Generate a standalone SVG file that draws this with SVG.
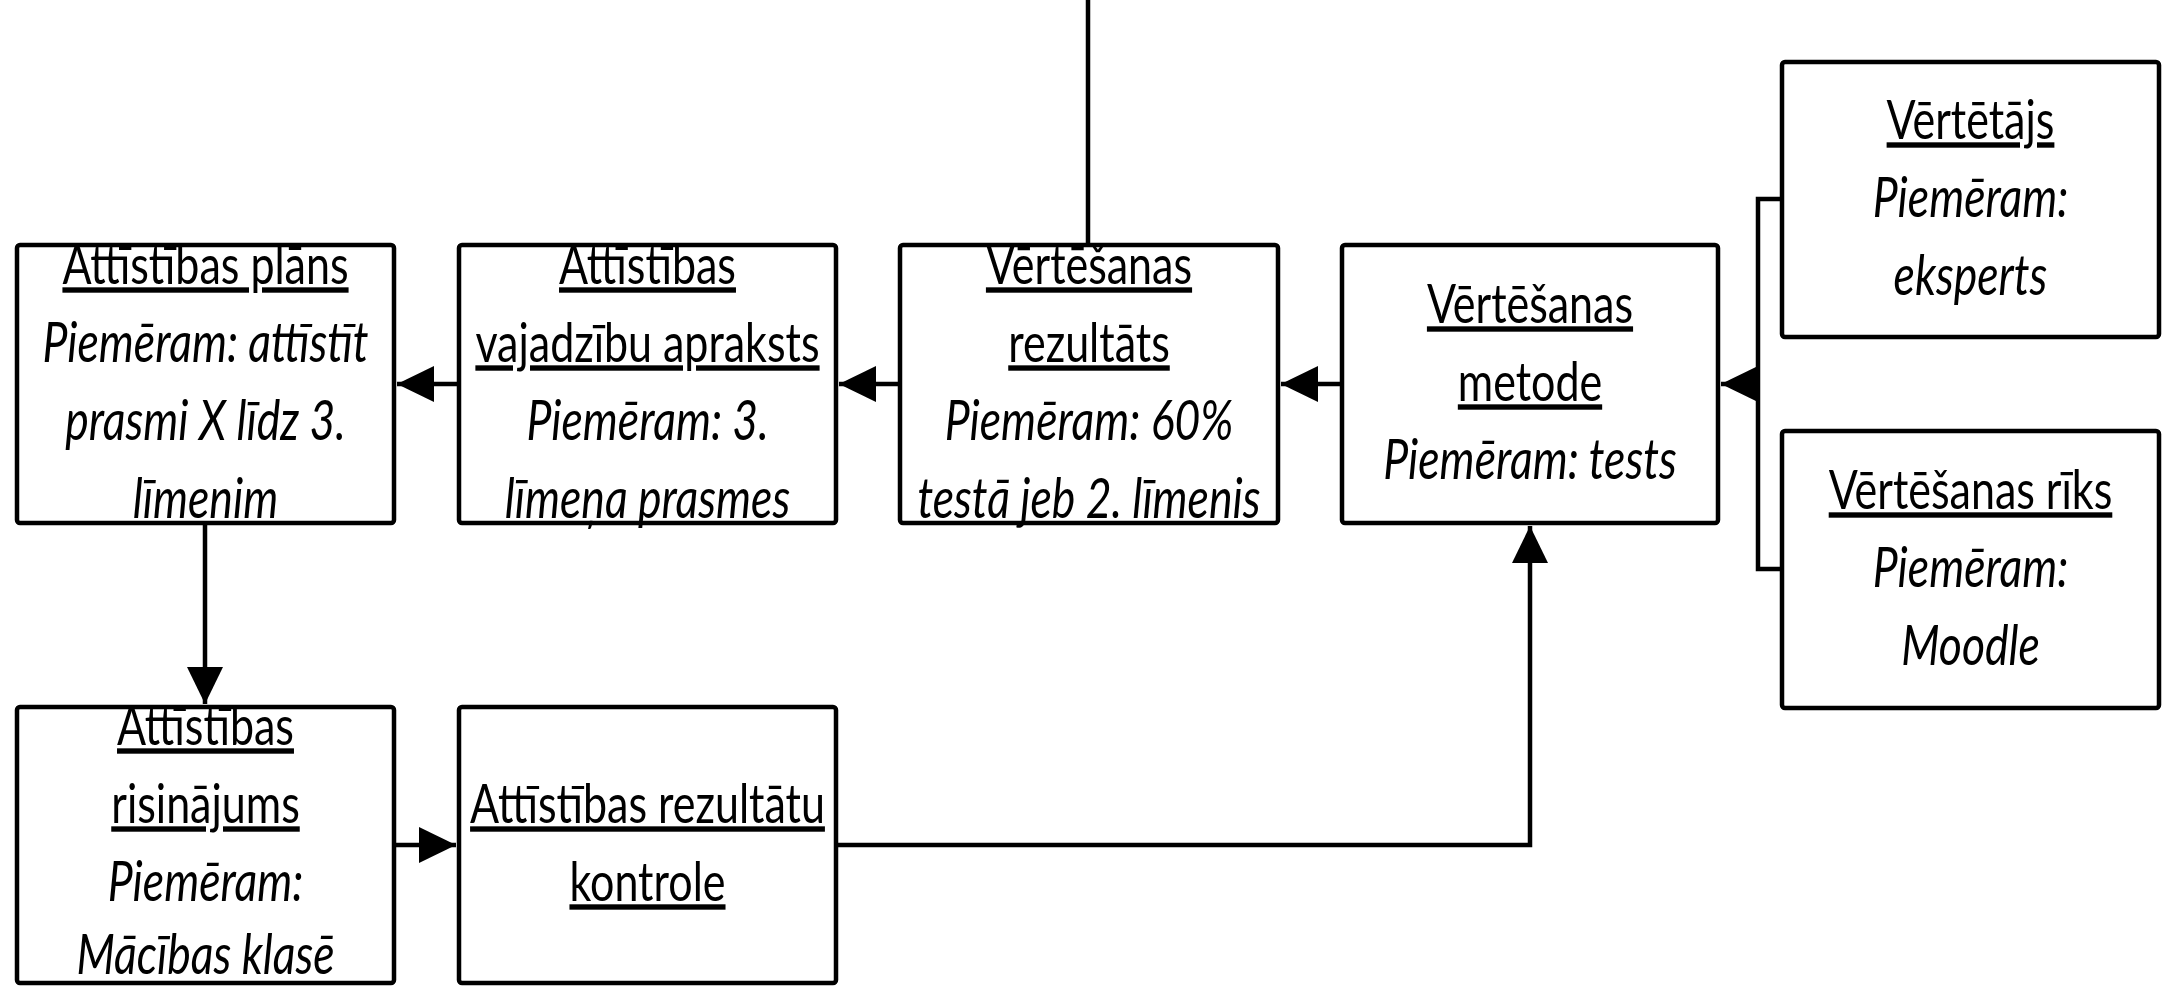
<svg xmlns="http://www.w3.org/2000/svg" width="2167" height="986" viewBox="0 0 2167 986">
<style>
.box{fill:#fff;stroke:#000;stroke-width:4.5}
.t{font-family:Lato,"Liberation Sans",sans-serif;font-size:43px;fill:#000;text-anchor:middle}
.u{text-decoration:underline}
.i{font-style:italic;font-size:44.5px}
.c{fill:none;stroke:#000;stroke-width:4.5}
</style>
<defs>
<marker id="ah" markerUnits="userSpaceOnUse" markerWidth="40" markerHeight="38" refX="37" refY="18" orient="auto">
<path d="M0,0 L37,18 L0,36 Z" fill="#000"/>
</marker>
</defs>
<rect width="2167" height="986" fill="#fff"/>
<g id="connectors">
<line class="c" x1="1088" y1="0" x2="1088" y2="246"/>
<line class="c" x1="459" y1="384" x2="397" y2="384" marker-end="url(#ah)"/>
<line class="c" x1="900" y1="384" x2="839" y2="384" marker-end="url(#ah)"/>
<line class="c" x1="1342" y1="384" x2="1281" y2="384" marker-end="url(#ah)"/>
<path class="c" d="M1782,199 H1758 V569 H1782"/>
<line class="c" x1="1758" y1="384" x2="1721" y2="384" marker-end="url(#ah)"/>
<line class="c" x1="205" y1="523" x2="205" y2="704" marker-end="url(#ah)"/>
<line class="c" x1="394" y1="845" x2="456" y2="845" marker-end="url(#ah)"/>
<path class="c" d="M836,845 H1530 V526" marker-end="url(#ah)"/>
</g>
<g id="n1">
<rect class="box" x="17" y="245" width="377" height="278" rx="3"/>
<g transform="translate(0,384) scale(1,1.25)">
<text class="t u" x="205.5" y="-80">Attīstības plāns</text>
<text class="t i" x="205.5" y="-17.6">Piemēram: attīstīt</text>
<text class="t i" x="205.5" y="44.8">prasmi X līdz 3.</text>
<text class="t i" x="205.5" y="107.2">līmenim</text>
</g>
</g>
<g id="n2">
<rect class="box" x="459" y="245" width="377" height="278" rx="3"/>
<g transform="translate(0,384) scale(1,1.25)">
<text class="t u" x="647.5" y="-80">Attīstības</text>
<text class="t u" x="647.5" y="-17.6">vajadzību apraksts</text>
<text class="t i" x="647.5" y="44.8">Piemēram: 3.</text>
<text class="t i" x="647.5" y="107.2">līmeņa prasmes</text>
</g>
</g>
<g id="n3">
<rect class="box" x="900" y="245" width="378" height="278" rx="3"/>
<g transform="translate(0,384) scale(1,1.25)">
<text class="t u" x="1089" y="-80">Vērtēšanas</text>
<text class="t u" x="1089" y="-17.6">rezultāts</text>
<text class="t i" x="1089" y="44.8">Piemēram: 60%</text>
<text class="t i" x="1089" y="107.2">testā jeb 2. līmenis</text>
</g>
</g>
<g id="n4">
<rect class="box" x="1342" y="245" width="376" height="278" rx="3"/>
<g transform="translate(0,384) scale(1,1.25)">
<text class="t u" x="1530" y="-48.8">Vērtēšanas</text>
<text class="t u" x="1530" y="13.6">metode</text>
<text class="t i" x="1530" y="76">Piemēram: tests</text>
</g>
</g>
<g id="n5">
<rect class="box" x="1782" y="62" width="377" height="275" rx="3"/>
<g transform="translate(0,199.5) scale(1,1.25)">
<text class="t u" x="1970.5" y="-48.4">Vērtētājs</text>
<text class="t i" x="1970.5" y="14">Piemēram:</text>
<text class="t i" x="1970.5" y="76.4">eksperts</text>
</g>
</g>
<g id="n6">
<rect class="box" x="1782" y="431" width="377" height="277" rx="3"/>
<g transform="translate(0,569.5) scale(1,1.25)">
<text class="t u" x="1970.5" y="-48.4">Vērtēšanas rīks</text>
<text class="t i" x="1970.5" y="14">Piemēram:</text>
<text class="t i" x="1970.5" y="76.4">Moodle</text>
</g>
</g>
<g id="n7">
<rect class="box" x="17" y="707" width="377" height="276" rx="3"/>
<g transform="translate(0,845) scale(1,1.25)">
<text class="t u" x="205.5" y="-80">Attīstības</text>
<text class="t u" x="205.5" y="-17.6">risinājums</text>
<text class="t i" x="205.5" y="44.8">Piemēram:</text>
<text class="t i" x="205.5" y="103.2">Mācības klasē</text>
</g>
</g>
<g id="n8">
<rect class="box" x="459" y="707" width="377" height="276" rx="3"/>
<g transform="translate(0,845) scale(1,1.25)">
<text class="t u" x="647.5" y="-17.6">Attīstības rezultātu</text>
<text class="t u" x="647.5" y="44.8">kontrole</text>
</g>
</g>
</svg>
